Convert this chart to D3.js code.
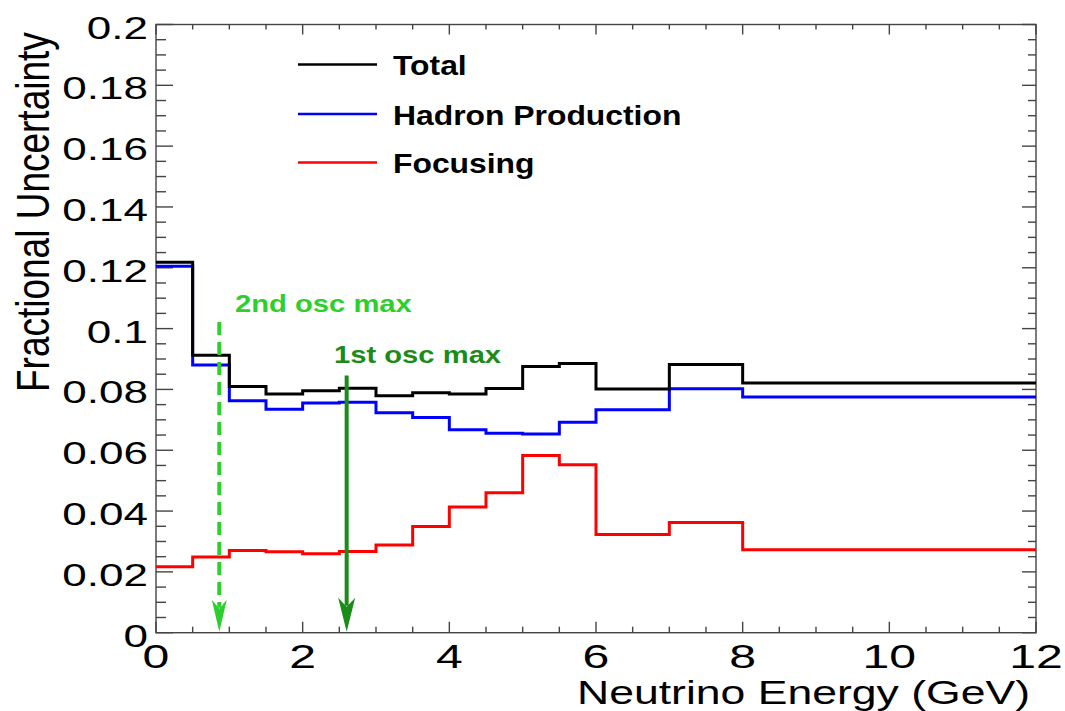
<!DOCTYPE html>
<html>
<head>
<meta charset="utf-8">
<script src="https://cdn.jsdelivr.net/npm/d3@7"></script>
<style>
  html, body { margin: 0; padding: 0; background: #fff; }
  svg { display: block; font-family: "Liberation Sans", Arial, Helvetica, sans-serif; }
</style>
</head>
<body>
<svg id="chart" width="1065" height="711"></svg>
<script>
// Neutrino flux fractional uncertainties per energy bin (GeV)
const binEdges = [0, 0.5, 1, 1.5, 2, 2.5, 3, 3.5, 4, 4.5, 5, 5.5, 6, 7, 8, 12];
const totalUnc = [0.1218, 0.0912, 0.0810, 0.0785, 0.0796, 0.0804, 0.0779, 0.0789,
                  0.0785, 0.0803, 0.0875, 0.0885, 0.0801, 0.0882, 0.0821];
const hadronUnc = [0.1205, 0.0880, 0.0763, 0.0735, 0.0755, 0.0758, 0.0723, 0.0708,
                   0.0667, 0.0656, 0.0653, 0.0692, 0.0733, 0.0802, 0.0775];
const focusingUnc = [0.0217, 0.0249, 0.0270, 0.0266, 0.0260, 0.0267, 0.0288, 0.0349,
                     0.0413, 0.0460, 0.0583, 0.0552, 0.0323, 0.0362, 0.0273];

const seriesNames = ["Total", "Hadron Production", "Focusing"];
const seriesColors = ["#000000", "#0000ff", "#ff0000"];

// Oscillation maxima markers
const oscLabels = ["2nd osc max", "1st osc max"];
const oscEnergy = [0.863, 2.60];
const oscArrowTop = [0.1022, 0.0846];
const oscColors = ["#2ccf2c", "#1a8c1a"];

const xTicks = [0, 2, 4, 6, 8, 10, 12];
const yTicks = [0, 0.02, 0.04, 0.06, 0.08, 0.1, 0.12, 0.14, 0.16, 0.18, 0.2];
const yTickLabels = ["0", "0.02", "0.04", "0.06", "0.08", "0.1", "0.12", "0.14", "0.16", "0.18", "0.2"];

const svg = d3.select("#chart");
const L = 156, R = 1036, T = 24.5, B = 632.7;

const x = d3.scaleLinear().domain([0, 12]).range([L, R]);
const y = d3.scaleLinear().domain([0, 0.2]).range([B, T]);

// Text helper: horizontally stretched glyphs, as in the original figure
function stretchedText(parent, px, py, sx, str, opts) {
  const g = parent.append("g").attr("transform", `translate(${px},${py}) scale(${sx},1)` + (opts.rotate ? ` rotate(${opts.rotate})` : ""));
  return g.append("text")
    .attr("x", 0).attr("y", 0)
    .attr("text-anchor", opts.anchor || "start")
    .attr("font-size", opts.size)
    .attr("font-weight", opts.weight || "normal")
    .attr("fill", opts.fill || "#000")
    .text(str);
}

// Frame
svg.append("rect")
  .attr("x", L).attr("y", T).attr("width", R - L).attr("height", B - T)
  .attr("fill", "none").attr("stroke", "#444").attr("stroke-width", 1.4);

// Ticks on all four sides
const ticksG = svg.append("g").attr("stroke", "#444").attr("stroke-width", 1.4);
const xMinor = d3.range(0, 12.001, 0.5);
xMinor.forEach(v => {
  const major = Math.abs(v / 2 - Math.round(v / 2)) < 1e-6;
  ticksG.append("line").attr("x1", x(v)).attr("x2", x(v)).attr("y1", B).attr("y2", B - (major ? 11 : 6));
  ticksG.append("line").attr("x1", x(v)).attr("x2", x(v)).attr("y1", T).attr("y2", T + (major ? 10 : 5));
});
const yMinor = d3.range(0, 0.2001, 0.005);
yMinor.forEach(v => {
  const major = Math.abs(v / 0.02 - Math.round(v / 0.02)) < 1e-6;
  ticksG.append("line").attr("x1", L).attr("x2", L + (major ? 17 : 10)).attr("y1", y(v)).attr("y2", y(v));
  ticksG.append("line").attr("x1", R).attr("x2", R - (major ? 14 : 8)).attr("y1", y(v)).attr("y2", y(v));
});

// Tick labels
yTicks.forEach((v, i) => {
  stretchedText(svg, 148, y(v) + 14, 1.42, yTickLabels[i], { anchor: "end", size: 31 });
});
xTicks.forEach(v => {
  stretchedText(svg, x(v), 667.5, 1.46, String(v), { anchor: "middle", size: 33 });
});

// Axis titles
stretchedText(svg, 1030, 703.5, 1.35, "Neutrino Energy (GeV)", { anchor: "end", size: 33 });
stretchedText(svg, 49, 392, 1.27, "Fractional Uncertainty", { anchor: "start", size: 37, rotate: -90 });

// Step histograms
const stepLine = d3.line()
  .x(d => x(d[0]))
  .y(d => y(d[1]))
  .curve(d3.curveStepAfter);

function stepPoints(vals) {
  const pts = vals.map((v, i) => [binEdges[i], v]);
  pts.push([binEdges[binEdges.length - 1], vals[vals.length - 1]]);
  return pts;
}

svg.append("clipPath").attr("id", "plotArea")
  .append("rect").attr("x", L).attr("y", T).attr("width", R - L).attr("height", B - T);

[focusingUnc, hadronUnc, totalUnc].forEach((vals, k) => {
  const idx = 2 - k;
  svg.append("path")
    .attr("d", stepLine(stepPoints(vals)))
    .attr("fill", "none")
    .attr("stroke", seriesColors[idx])
    .attr("stroke-width", 3)
    .attr("stroke-linejoin", "miter")
    .attr("clip-path", "url(#plotArea)");
});

// Legend
const legendY = [64.5, 114, 162.5];
seriesNames.forEach((name, i) => {
  svg.append("line")
    .attr("x1", 298).attr("x2", 377)
    .attr("y1", legendY[i]).attr("y2", legendY[i])
    .attr("stroke", seriesColors[i]).attr("stroke-width", 2.4);
  stretchedText(svg, 393, legendY[i] + 10.5, 1.18, name, { size: 27, weight: "bold" });
});

// Oscillation maximum arrows
oscEnergy.forEach((e, i) => {
  const cx = x(e);
  const tipY = y(0) - 1;
  const headLen = i === 0 ? 32 : 34;
  const halfW = i === 0 ? 7.5 : 8.5;
  svg.append("line")
    .attr("x1", cx).attr("x2", cx)
    .attr("y1", y(oscArrowTop[i])).attr("y2", tipY - headLen + 8)
    .attr("stroke", oscColors[i])
    .attr("stroke-width", 4)
    .attr("stroke-dasharray", i === 0 ? "13,7" : null);
  svg.append("path")
    .attr("d", `M${cx},${tipY} L${cx - halfW},${tipY - headLen} L${cx},${tipY - headLen + 9} L${cx + halfW},${tipY - headLen} Z`)
    .attr("fill", oscColors[i]);
});

stretchedText(svg, 235, 311.5, 1.27, oscLabels[0], { size: 23, weight: "bold", fill: oscColors[0] });
stretchedText(svg, 334, 363.3, 1.27, oscLabels[1], { size: 23, weight: "bold", fill: oscColors[1] });
</script>
</body>
</html>
